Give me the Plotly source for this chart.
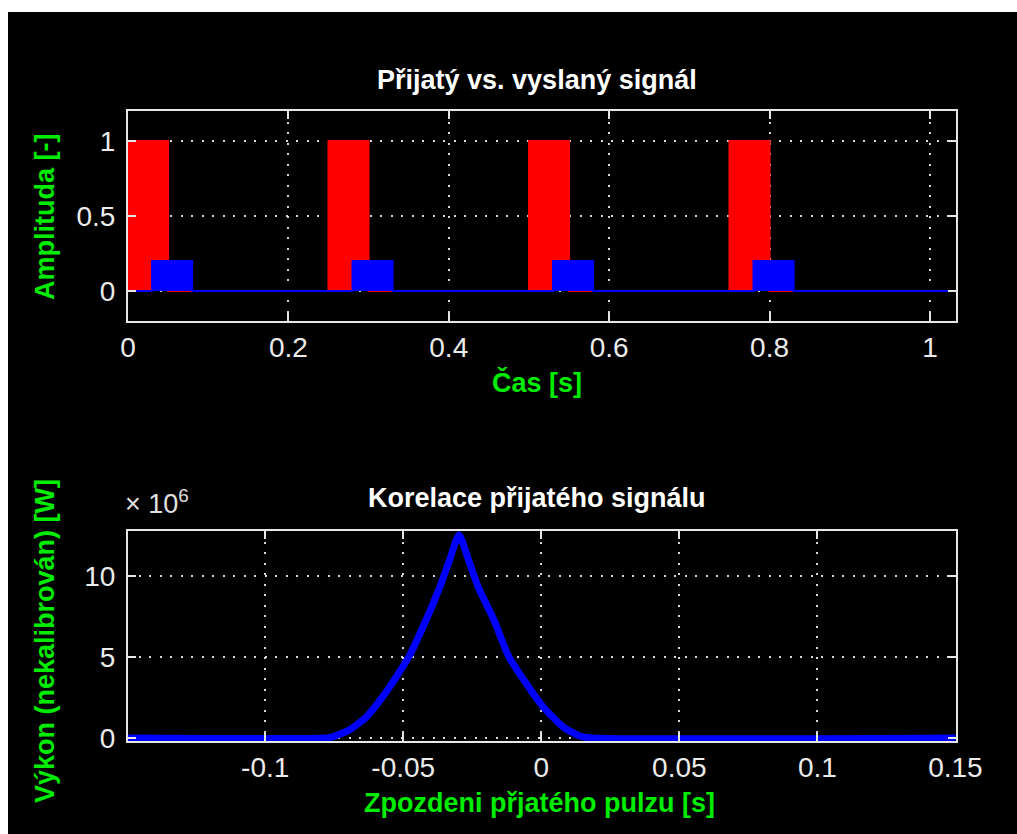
import plotly.graph_objects as go
from plotly.subplots import make_subplots

# ---- sent / received pulse train ----
pulse_starts = [0.0, 0.25, 0.5, 0.75]   # s
pulse_width = 0.05                     # s
sent_amplitude = 1.0
echo_delay = 0.03                      # s
echo_amplitude = 0.2
time_end = 1.0325                      # s

# ---- correlation (power) of the received signal, in units of 1e6 W ----
lag_s = [-0.1500, -0.0780, -0.0756, -0.0695, -0.0634, -0.0574, -0.0513,
         -0.0477, -0.0417, -0.0368, -0.0332, -0.0298, -0.0264, -0.0228,
         -0.0172, -0.0117, -0.0054, 0.0006, 0.0078, 0.0139, 0.0186, 0.1500]
power_e6 = [0.0, 0.0, 0.07, 0.5, 1.3, 2.55, 4.1,
            5.1, 7.3, 9.3, 11.0, 12.55, 11.0, 9.3,
            7.3, 5.0, 3.35, 1.93, 0.7, 0.12, 0.0, 0.0]

time_ticks = [0, 0.2, 0.4, 0.6, 0.8, 1]
time_ticktext = ["0", "0.2", "0.4", "0.6", "0.8", "1"]
amp_ticks = [0, 0.5, 1]
amp_ticktext = ["0", "0.5", "1"]
lag_ticks = [-0.1, -0.05, 0, 0.05, 0.1, 0.15]
lag_ticktext = ["-0.1", "-0.05", "0", "0.05", "0.1", "0.15"]
power_ticks = [0, 5, 10]
power_ticktext = ["0", "5", "10"]


def pulse_train(starts, delay, width, amp, t_end):
    """Rectangular pulse train as explicit step vertices."""
    t, y = [0.0], [0.0]
    for s in starts:
        a, b = s + delay, s + delay + width
        t += [a, a, b, b]
        y += [0.0, amp, amp, 0.0]
    t.append(t_end)
    y.append(0.0)
    return t, y


W, H = 1017, 834
L, R, T, B = 128, 956, 111, 741   # plot area in pixels


def px(x):
    return (x - L) / (R - L)


def py(y):
    return (B - y) / (B - T)


fig = make_subplots(rows=2, cols=1)

t_sent, y_sent = pulse_train(pulse_starts, 0.0, pulse_width, sent_amplitude, time_end)
t_recv, y_recv = pulse_train(pulse_starts, echo_delay, pulse_width, echo_amplitude, time_end)

fig.add_trace(go.Scatter(x=t_sent, y=y_sent, mode="lines", fill="tozeroy",
                         fillcolor="#ff0000", line=dict(color="#ff0000", width=2),
                         hoverinfo="skip"), row=1, col=1)
fig.add_trace(go.Scatter(x=t_recv, y=y_recv, mode="lines", fill="tozeroy",
                         fillcolor="#0000ff", line=dict(color="#0000ff", width=2),
                         hoverinfo="skip"), row=1, col=1)
fig.add_trace(go.Scatter(x=lag_s, y=power_e6, mode="lines",
                         line=dict(color="#0000ff", width=7, shape="spline",
                                   smoothing=0.6),
                         hoverinfo="skip"), row=2, col=1)

axis_color = "#e6e6e6"
tick_font = dict(family="Liberation Sans, Arial, sans-serif", size=28, color="#ececec")
common = dict(showline=True, linecolor=axis_color, linewidth=2, mirror="ticks",
              ticks="inside", ticklen=8, tickwidth=1.5, tickcolor=axis_color,
              showgrid=True, gridcolor="#d8d8d8", gridwidth=1.5,
              griddash="2px,8.5px", zeroline=False, tickfont=tick_font)
xstand = dict(ticklabelstandoff=0)
ystand = dict(ticklabelstandoff=5)

fig.update_xaxes(range=[0, time_end], tickvals=time_ticks, ticktext=time_ticktext,
                 domain=[0, 1], **common, **xstand, row=1, col=1)
fig.update_yaxes(range=[-0.2, 1.2], tickvals=amp_ticks, ticktext=amp_ticktext,
                 domain=[py(321), 1], **common, **ystand, row=1, col=1)
fig.update_xaxes(range=[-0.1497, 0.1502], tickvals=lag_ticks, ticktext=lag_ticktext,
                 domain=[0, 1], **common, **xstand, row=2, col=1)
fig.update_yaxes(range=[-0.185, 12.78], tickvals=power_ticks, ticktext=power_ticktext,
                 domain=[0, py(531)], **common, **ystand, row=2, col=1)

green = "#00ec00"
bold = dict(family="Liberation Sans, Arial, sans-serif", size=27, weight="bold")


def label(text, x, y, color, angle=0, font=None, xanchor="center"):
    f = dict(font or bold)
    f["color"] = color
    fig.add_annotation(text=text, x=px(x), y=py(y), xref="paper", yref="paper",
                       showarrow=False, textangle=angle, font=f,
                       xanchor=xanchor, yanchor="middle")


label("Přijatý vs. vyslaný signál", 537, 80, "#ffffff")
label("Čas [s]", 537, 382, green)
label("Amplituda [-]", 45, 217, green, angle=-90)
label("Korelace přijatého signálu", 537, 498, "#ffffff")
label("Zpozdeni přjatého pulzu [s]", 539, 803, green)
label("Výkon (nekalibrován) [W]", 45, 641, green, angle=-90)
label("× 10<sup>6</sup>", 123, 502, "#e0e0e0",
      font=dict(family="Liberation Sans, Arial, sans-serif", size=27),
      xanchor="left")

# white strips along the top and left edges of the canvas
fig.add_shape(type="rect", xref="paper", yref="paper", x0=px(0), x1=px(W),
              y0=py(12), y1=py(0), fillcolor="#ffffff", line_width=0, layer="above")
fig.add_shape(type="rect", xref="paper", yref="paper", x0=px(0), x1=px(8),
              y0=py(H), y1=py(0), fillcolor="#ffffff", line_width=0, layer="above")

fig.update_layout(width=W, height=H, showlegend=False,
                  paper_bgcolor="#000000", plot_bgcolor="#000000",
                  margin=dict(l=L, r=W - R, t=T, b=H - B))

fig.write_html("out.html", config={"displayModeBar": False})
